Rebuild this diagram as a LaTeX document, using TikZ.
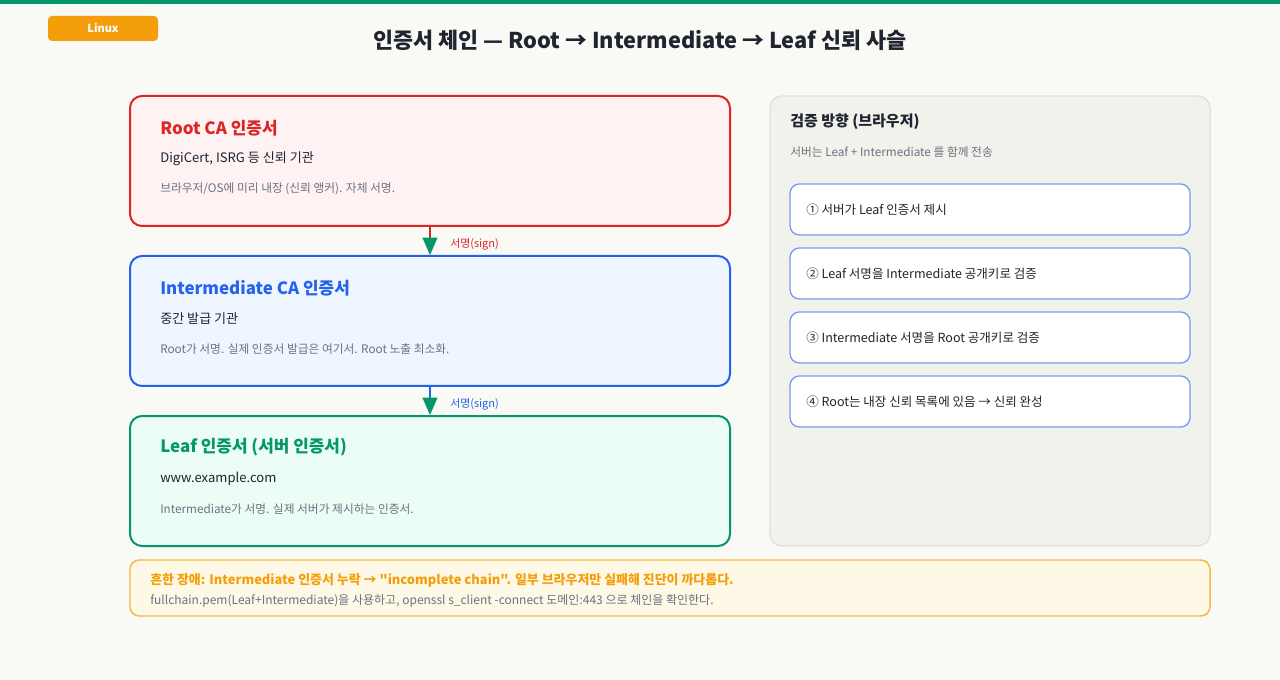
\documentclass[tikz,border=0pt]{standalone}
\usepackage{fontspec}
\setmainfont{Noto Sans CJK KR}[Ligatures=TeXOff]
\usetikzlibrary{positioning,arrows.meta}
\definecolor{cbg}{HTML}{F9F9F5}
\definecolor{cgreen}{HTML}{059669}
\definecolor{cred}{HTML}{DC2626}
\definecolor{cblue}{HTML}{2563EB}
\definecolor{corange}{HTML}{F59E0B}
\definecolor{cink}{HTML}{1F2430}
\definecolor{cmut}{HTML}{6B7280}
\definecolor{credbg}{HTML}{FEF2F2}
\definecolor{cbluebg}{HTML}{EFF6FF}
\definecolor{cgreenbg}{HTML}{ECFDF5}
\definecolor{cpanel}{HTML}{F2F2EC}
\definecolor{cpanelln}{HTML}{E2E2DA}
\definecolor{cstep}{HTML}{779CF3}
\definecolor{cnote}{HTML}{FEF9E6}
\definecolor{cnoteln}{HTML}{F5B840}
\begin{document}
\begin{tikzpicture}[x=0.75pt,y=-0.75pt,
    card/.style={rectangle,rounded corners=9pt,line width=1.5pt,
      minimum width=450pt,minimum height=97.5pt,inner sep=0pt},
    head/.style={anchor=west,inner sep=0pt,font=\fontsize{12.7}{15}\selectfont\bfseries},
    sub/.style={anchor=west,inner sep=0pt,text=cink,font=\fontsize{9.8}{12}\selectfont},
    gray/.style={anchor=west,inner sep=0pt,text=cmut,font=\fontsize{8.8}{11}\selectfont},
    stepbox/.style={rectangle,draw=cstep,fill=white,rounded corners=7pt,line width=1pt,
      minimum width=300pt,minimum height=38.25pt,inner sep=0pt},
    signarrow/.style={line width=1.5pt,-{Triangle[length=13pt,width=11pt,color=cgreen,fill=cgreen]}},
    signlbl/.style={anchor=west,inner sep=0pt,font=\fontsize{8.2}{10}\selectfont}]
    \useasboundingbox (0,0) rectangle (1280,680);
    \fill[cbg] (0,0) rectangle (1280,680);
    \fill[cgreen] (0,0) rectangle (1280,4);
    % ---- header
    \node[rectangle,fill=corange,rounded corners=3pt,minimum width=82.5pt,minimum height=18.75pt,
      inner sep=0pt,text=white,font=\fontsize{8.25}{10}\selectfont\bfseries] (badge) at (103,28.5) {Linux};
    \node[text=cink,font=\fontsize{16.35}{20}\selectfont\bfseries] (title) at (640,40)
      {인증서 체인 — Root → Intermediate → Leaf 신뢰 사슬};
    % ---- chain: root / intermediate / leaf
    \node[card,draw=cred,fill=credbg] (root) at (430,161) {};
    \node[head,text=cred] (roott) at (160,128) {Root CA 인증서};
    \node[sub] (roots) at (160,159) {DigiCert, ISRG 등 신뢰 기관};
    \node[gray] (rootg) at (160,189) {브라우저/OS에 미리 내장 (신뢰 앵커). 자체 서명.};

    \node[card,draw=cblue,fill=cbluebg] (inter) at (430,321) {};
    \node[head,text=cblue] (intert) at (160,288) {Intermediate CA 인증서};
    \node[sub] (inters) at (160,319) {중간 발급 기관};
    \node[gray] (interg) at (160,349) {Root가 서명. 실제 인증서 발급은 여기서. Root 노출 최소화.};

    \node[card,draw=cgreen,fill=cgreenbg] (leaf) at (430,481) {};
    \node[head,text=cgreen] (leaft) at (160,447) {Leaf 인증서 (서버 인증서)};
    \node[sub] (leafs) at (160,479) {www.example.com};
    \node[gray] (leafg) at (160,509) {Intermediate가 서명. 실제 서버가 제시하는 인증서.};

    \draw[signarrow,cred] (root.south) -- (inter.north);
    \node[signlbl,text=cred] (sign1) at (450,244) {서명(sign)};
    \draw[signarrow,cblue] (inter.south) -- (leaf.north);
    \node[signlbl,text=cblue] (sign2) at (450,404) {서명(sign)};
    % ---- right panel: browser check
    \node[rectangle,draw=cpanelln,fill=cpanel,rounded corners=9pt,line width=1.1pt,
      minimum width=330pt,minimum height=337.5pt,inner sep=0pt] (panel) at (990,321) {};
    \node[anchor=west,inner sep=0pt,text=cink,font=\fontsize{11.25}{14}\selectfont\bfseries] (panelt) at (790,122) {검증 방향 (브라우저)};
    \node[gray] (panelg) at (790,152) {서버는 Leaf + Intermediate 를 함께 전송};
    \foreach \i/\txt in {1/{① 서버가 Leaf 인증서 제시},
        2/{② Leaf 서명을 Intermediate 공개키로 검증},
        3/{③ Intermediate 서명을 Root 공개키로 검증},
        4/{④ Root는 내장 신뢰 목록에 있음 → 신뢰 완성}}{
      \node[stepbox] (step\i) at (990,{209.5+64*(\i-1)}) {};
      \node[anchor=west,inner sep=0pt,text=cink,font=\fontsize{9.4}{12}\selectfont] (stept\i) at (806,{209.5+64*(\i-1)}) {\txt};}
    % ---- bottom note
    \node[rectangle,draw=cnoteln,fill=cnote,rounded corners=7pt,line width=1.1pt,
      minimum width=810pt,minimum height=42pt,inner sep=0pt] (note) at (670,588) {};
    \node[anchor=west,inner sep=0pt,text=corange,font=\fontsize{9.7}{12}\selectfont\bfseries] (notet) at (150,580)
      {흔한 장애: Intermediate 인증서 누락 → "incomplete chain". 일부 브라우저만 실패해 진단이 까다롭다.};
    \node[anchor=west,inner sep=0pt,text=cmut,font=\fontsize{9.0}{11}\selectfont] (noteg) at (150,601)
      {fullchain.pem(Leaf+Intermediate)을 사용하고, openssl s\_client -connect 도메인:443 으로 체인을 확인한다.};
  \end{tikzpicture}
\end{document}
